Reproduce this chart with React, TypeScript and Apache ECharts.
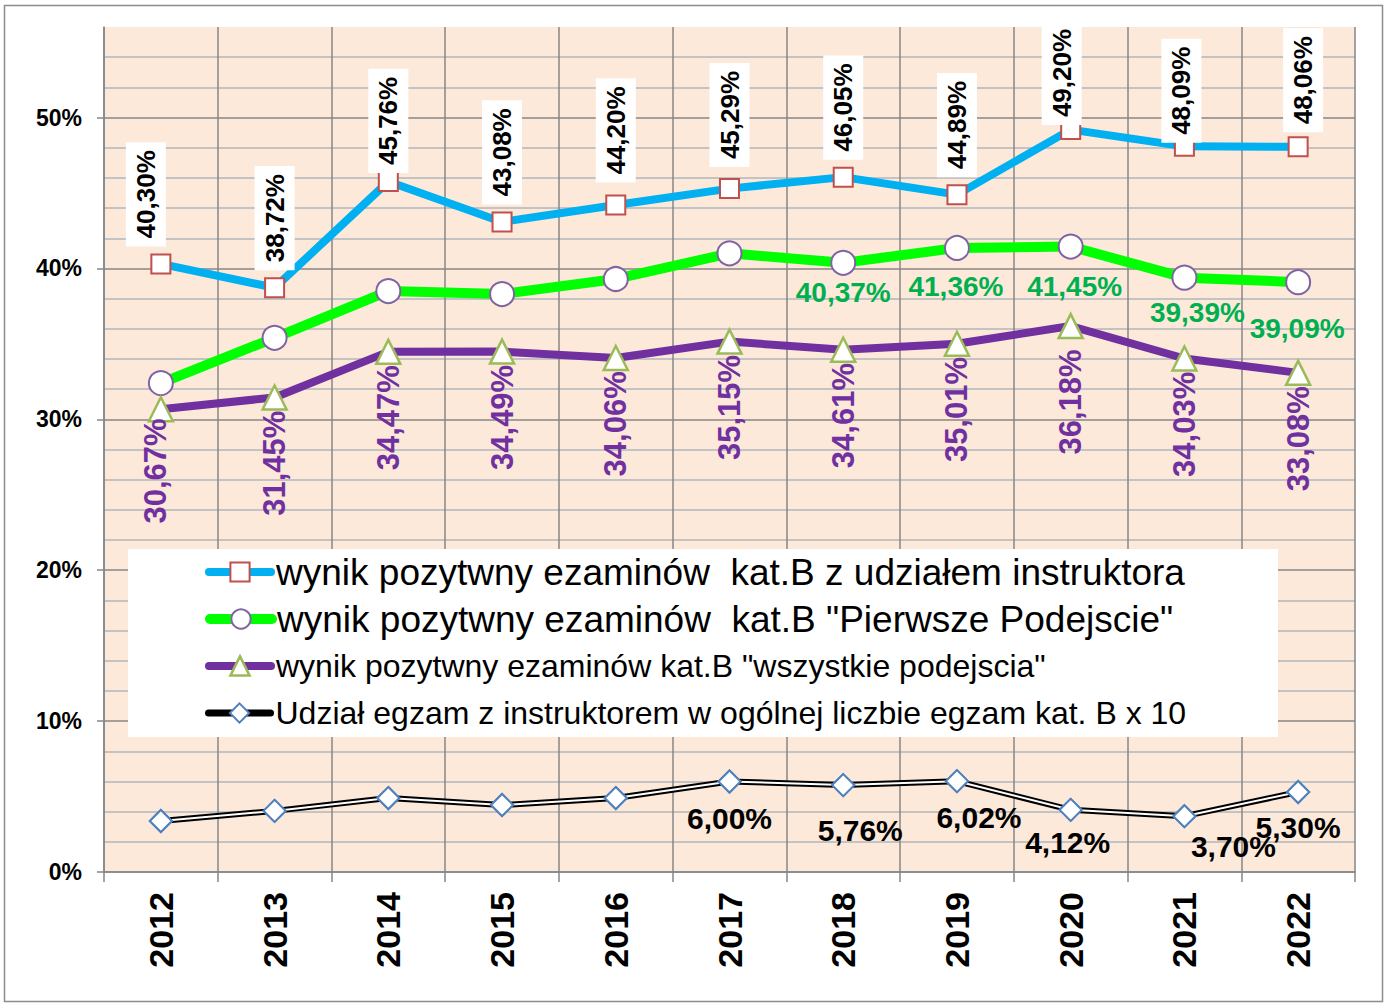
import React, { useEffect, useRef } from 'react';
import * as echarts from 'echarts';

const years = ['2012', '2013', '2014', '2015', '2016', '2017', '2018', '2019', '2020', '2021', '2022'];
const instructorPass = [40.3, 38.72, 45.76, 43.08, 44.2, 45.29, 46.05, 44.89, 49.2, 48.09, 48.06];
const firstAttemptPass = [32.4, 35.4, 38.5, 38.3, 39.3, 41.0, 40.37, 41.36, 41.45, 39.39, 39.09];
const allAttemptsPass = [30.67, 31.45, 34.47, 34.49, 34.06, 35.15, 34.61, 35.01, 36.18, 34.03, 33.08];
const instructorShareX10 = [3.38, 4.05, 4.9, 4.44, 4.9, 6.0, 5.76, 6.02, 4.12, 3.7, 5.3];
const yTickValues = [0, 10, 20, 30, 40, 50];

const seriesNames = [
  'wynik pozytwny ezaminów  kat.B z udziałem instruktora',
  'wynik pozytwny ezaminów  kat.B "Pierwsze Podejscie"',
  'wynik pozytwny ezaminów kat.B "wszystkie podejscia"',
  'Udział egzam z instruktorem w ogólnej liczbie egzam kat. B x 10',
];

// label placement tweaks in screen px [dx, dy], kept apart from the data
const blueLabelShift = [[-15, 0], [0, 0], [0, 9], [0, 0], [0, -5], [0, -4], [0, 0], [0, 0], [-9, 13], [-3, 14], [5, 3]];
const purpleLabelShift = [[-5, -4], [0, 0], [0, 0], [0, 0], [0, 0], [0, 0], [0, 0], [0, 0], [0, 10], [0, 0], [0, 0]];
const greenLabelShift = [[0, 0], [0, 0], [0, 0], [0, 0], [0, 0], [0, 0], [0, 30], [-1, 39], [4, 40], [13, 35], [-1, 46]];
const blackLabelShift = [[0, 0], [0, 0], [0, 0], [0, 0], [0, 0], [0, 37], [17, 45], [22, 36], [-3, 33], [49, 30], [0, 35]];
const greenLabelFrom = 6;
const blackLabelFrom = 5;

const FONT = '"Liberation Sans", Arial, Helvetica, sans-serif';
const fmt = (v: number) => v.toFixed(2).replace('.', ',') + '%';
const GRID_DARK = '#868686';
// offsets of labels rotated by 90 degrees are applied in the label's own frame
const rotShift = (s: number[]) => [-s[1], s[0]];

export default function App() {
  const ref = useRef<HTMLDivElement>(null);
  useEffect(() => {
    if (!ref.current) return;
    const chart = echarts.init(ref.current, undefined, { renderer: 'svg' });
    const labelFmt = (p: any) => fmt(p.value);

    const legendDefs = [
      { name: seriesNames[0], fs: 37, center: 572, line: { color: '#00b0f0', width: 8 }, item: { color: '#fff', borderColor: '#c0504d', borderWidth: 2 } },
      { name: seriesNames[1], fs: 37, center: 619, line: { color: '#00ff00', width: 10 }, item: { color: '#fff', borderColor: '#8064a2', borderWidth: 2 } },
      { name: seriesNames[2], fs: 32, center: 666, line: { color: '#7030a0', width: 8 }, item: { color: '#fff', borderColor: '#9bbb59', borderWidth: 2.5 } },
      { name: seriesNames[3], fs: 32, center: 713, line: { color: '#000', width: 7 }, item: { color: '#fff', borderColor: '#4f81bd', borderWidth: 2 } },
    ];

    const option: any = {
      animation: false,
      backgroundColor: '#fff',
      textStyle: { fontFamily: FONT },
      graphic: [
        { type: 'rect', z: 0, silent: true, shape: { x: 4.5, y: 5.5, width: 1378, height: 996 }, style: { fill: 'none', stroke: '#8c8c8c', lineWidth: 1.5 } },
        { type: 'rect', z: 1, silent: true, shape: { x: 128, y: 549, width: 1150, height: 188 }, style: { fill: '#fff' } },
      ],
      legend: legendDefs.map((d) => ({
        orient: 'horizontal',
        left: 205,
        top: d.center - 20,
        padding: 0,
        itemWidth: 62,
        itemHeight: 24,
        selectedMode: false,
        z: 5,
        data: [
          {
            name: d.name,
            textStyle: { fontSize: d.fs, color: '#000', fontFamily: FONT, lineHeight: 40 },
            lineStyle: { color: d.line.color, width: d.line.width, opacity: 1, cap: 'round' },
            itemStyle: d.item,
          },
        ],
      })),
      grid: { left: 104, right: 34, top: 27, bottom: 135, show: true, backgroundColor: '#fde9d9', borderWidth: 0 },
      xAxis: {
        type: 'category',
        data: years,
        boundaryGap: true,
        axisLine: { lineStyle: { color: GRID_DARK, width: 1.5 } },
        axisTick: { show: true, length: 10, lineStyle: { color: GRID_DARK, width: 1.5 } },
        axisLabel: { rotate: 90, fontSize: 34, fontWeight: 'bold', color: '#000', margin: 20, interval: 0, fontFamily: FONT },
        splitLine: { show: true, lineStyle: { color: GRID_DARK, width: 1.5 } },
      },
      yAxis: {
        type: 'value',
        min: 0,
        max: 56,
        interval: 10,
        axisLine: { show: true, lineStyle: { color: GRID_DARK, width: 1.5 } },
        axisTick: { show: true, length: 7, lineStyle: { color: GRID_DARK, width: 1.5 }, customValues: yTickValues },
        axisLabel: {
          fontSize: 23,
          fontWeight: 'bold',
          color: '#000',
          margin: 22,
          fontFamily: FONT,
          customValues: yTickValues,
          formatter: (v: number) => (v % 10 === 0 ? v + '%' : ''),
        },
        splitLine: { show: true, lineStyle: { color: GRID_DARK, width: 1.5 } },
        minorTick: { show: false, splitNumber: 5 },
        minorSplitLine: { show: true, lineStyle: { color: '#c3c3c3', width: 2 } },
      },
      series: [
        {
          name: seriesNames[0],
          type: 'line',
          z: 3,
          symbol: 'rect',
          symbolSize: 19,
          lineStyle: { color: '#00b0f0', width: 8 },
          itemStyle: { color: '#fff', borderColor: '#c0504d', borderWidth: 2 },
          label: {
            show: true,
            position: 'top',
            distance: 7,
            rotate: 90,
            align: 'left',
            verticalAlign: 'middle',
            fontSize: 26,
            fontWeight: 'bold',
            color: '#000',
            backgroundColor: '#fff',
            padding: [6, 8, 6, 8],
            lineHeight: 28,
            fontFamily: FONT,
            formatter: labelFmt,
          },
          data: instructorPass.map((v, i) => ({ value: v, label: { offset: rotShift(blueLabelShift[i]) } })),
        },
        {
          name: seriesNames[1],
          type: 'line',
          z: 3,
          symbol: 'circle',
          symbolSize: 24,
          lineStyle: { color: '#00ff00', width: 10 },
          itemStyle: { color: '#fff', borderColor: '#8064a2', borderWidth: 2 },
          label: {
            show: false,
            position: 'inside',
            fontSize: 28,
            fontWeight: 'bold',
            color: '#00b050',
            fontFamily: FONT,
            formatter: labelFmt,
          },
          data: firstAttemptPass.map((v, i) => ({
            value: v,
            label: { show: i >= greenLabelFrom, offset: greenLabelShift[i] },
          })),
        },
        {
          name: seriesNames[2],
          type: 'line',
          z: 3,
          symbol: 'triangle',
          symbolSize: 24,
          lineStyle: { color: '#7030a0', width: 8 },
          itemStyle: { color: '#fff', borderColor: '#9bbb59', borderWidth: 2.5 },
          label: {
            show: true,
            position: 'bottom',
            distance: 0,
            rotate: 90,
            align: 'right',
            verticalAlign: 'middle',
            fontSize: 31,
            fontWeight: 'bold',
            color: '#7030a0',
            fontFamily: FONT,
            formatter: labelFmt,
          },
          data: allAttemptsPass.map((v, i) => ({ value: v, label: { offset: rotShift(purpleLabelShift[i]) } })),
        },
        {
          name: seriesNames[3],
          type: 'line',
          z: 2,
          symbol: 'diamond',
          symbolSize: 22,
          lineStyle: { color: '#000', width: 6 },
          itemStyle: { color: '#fff', borderColor: '#4f81bd', borderWidth: 2 },
          data: instructorShareX10,
        },
        {
          name: 'share-inner',
          type: 'line',
          z: 2,
          silent: true,
          symbol: 'none',
          lineStyle: { color: '#fff', width: 2 },
          data: instructorShareX10,
        },
        {
          name: 'share-markers',
          type: 'line',
          z: 2,
          symbol: 'diamond',
          symbolSize: 22,
          lineStyle: { opacity: 0, width: 0 },
          itemStyle: { color: '#fff', borderColor: '#4f81bd', borderWidth: 2 },
          label: {
            show: false,
            position: 'inside',
            fontSize: 30,
            fontWeight: 'bold',
            color: '#000',
            fontFamily: FONT,
            formatter: labelFmt,
          },
          data: instructorShareX10.map((v, i) => ({
            value: v,
            label: { show: i >= blackLabelFrom, offset: blackLabelShift[i] },
          })),
        },
      ],
    };
    chart.setOption(option);
    return () => chart.dispose();
  }, []);
  return <div ref={ref} style={{ position: 'absolute', left: 0, top: 0, width: 1389, height: 1007 }} />;
}
